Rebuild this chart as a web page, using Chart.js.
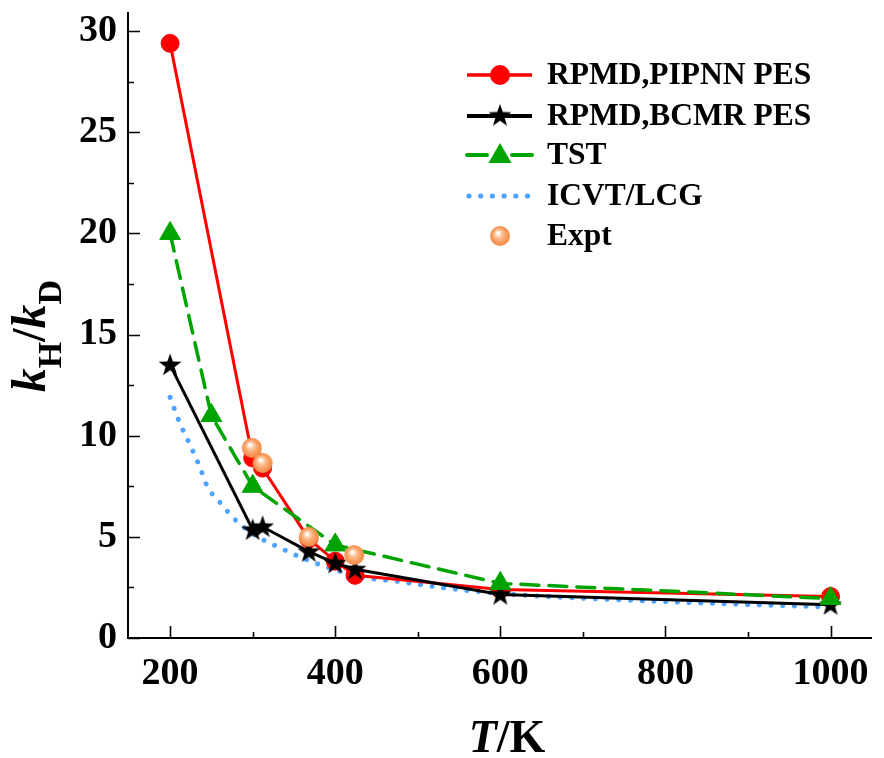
<!DOCTYPE html>
<html>
<head>
<meta charset="utf-8">
<script src="https://cdn.jsdelivr.net/npm/chart.js@4"></script>
<style>
  body { margin: 0; background: #fff; }
  canvas { display: block; }
</style>
</head>
<body>
<canvas id="ratioChart" width="884" height="758"></canvas>
<script>
// RPMD temperatures (K) and k_H/k_D ratios
const rpmdTemps = [200, 300, 312, 368, 400, 424, 600, 1000];
const rpmdPipnn = [29.4, 8.9, 8.4, 4.9, 3.8, 3.1, 2.4, 2.05];
const rpmdBcmr = [13.5, 5.35, 5.5, 4.27, 3.7, 3.4, 2.15, 1.65];

const tstTemps = [200, 250, 300, 400, 600, 1000];
const tstRatio = [20.0, 11.0, 7.5, 4.6, 2.7, 1.95];

const icvtTemps = [200, 211, 223, 235, 245, 261, 279, 302, 330, 366, 398, 430, 477, 534, 600, 800, 1000];
const icvtRatio = [11.9, 10.7, 9.65, 8.56, 7.5, 6.67, 5.84, 5.1, 4.52, 3.86, 3.4, 3.03, 2.79, 2.47, 2.2, 1.8, 1.53];

const exptTemps = [299, 312, 368, 423];
const exptRatio = [9.4, 8.65, 5.0, 4.1];

const xTicks = [200, 400, 600, 800, 1000];
const yTicks = [0, 5, 10, 15, 20, 25, 30];

const serif = '"Liberation Serif", "Times New Roman", serif';
const RED = '#ff0000';
const GREEN = '#00a400';
const BLUE = '#4da3ff';

function toPoints(xs, ys) {
    return xs.map((x, i) => ({ x: x, y: ys[i] }));
}

// filled five point star marker
const starImg = (() => {
    const c = document.createElement('canvas');
    c.width = 26; c.height = 26;
    const g = c.getContext('2d');
    g.beginPath();
    for (let i = 0; i < 10; i++) {
        const r = i % 2 ? 4.8 : 12;
        const a = -Math.PI / 2 + i * Math.PI / 5;
        const px = 13 + r * Math.cos(a), py = 13.5 + r * Math.sin(a);
        if (i === 0) g.moveTo(px, py); else g.lineTo(px, py);
    }
    g.closePath();
    g.fillStyle = '#000';
    g.fill();
    return c;
})();

// shaded orange ball for the experiment
const ballImg = (() => {
    const c = document.createElement('canvas');
    c.width = 22; c.height = 22;
    const g = c.getContext('2d');
    const grad = g.createRadialGradient(9, 8, 1, 11, 11, 10.5);
    grad.addColorStop(0, '#ffffff');
    grad.addColorStop(0.25, '#ffc9a0');
    grad.addColorStop(0.6, '#f9a066');
    grad.addColorStop(1, '#f0883f');
    g.beginPath();
    g.arc(11, 11, 10, 0, Math.PI * 2);
    g.fillStyle = grad;
    g.fill();
    return c;
})();

// inward ticks, custom axis titles and legend
const decorPlugin = {
    id: 'decor',
    afterDraw(chart) {
        const ctx = chart.ctx;
        const xs = chart.scales.x, ys = chart.scales.y;
        const left = chart.chartArea.left, bottom = chart.chartArea.bottom;
        ctx.save();
        ctx.strokeStyle = '#000';
        ctx.lineWidth = 1.6;
        ctx.beginPath();
        for (let v = 200; v <= 1000; v += 100) {
            const px = Math.round(xs.getPixelForValue(v)) + 0.5;
            const len = v % 200 === 0 ? 12 : 6;
            ctx.moveTo(px, bottom);
            ctx.lineTo(px, bottom - len);
        }
        for (let v = 0; v <= 30; v += 2.5) {
            const py = Math.round(ys.getPixelForValue(v)) + 0.5;
            const len = v % 5 === 0 ? 12 : 6;
            ctx.moveTo(left, py);
            ctx.lineTo(left + len, py);
        }
        ctx.stroke();

        // x title: T/K
        ctx.fillStyle = '#000';
        ctx.textBaseline = 'alphabetic';
        const fT = 'italic bold 46px ' + serif;
        const fK = 'bold 46px ' + serif;
        ctx.font = fT;
        const wT = ctx.measureText('T').width;
        ctx.font = fK;
        const wK = ctx.measureText('/K').width;
        let tx = 507 - (wT + wK) / 2;
        ctx.font = fT;
        ctx.fillText('T', tx, 752);
        ctx.font = fK;
        ctx.fillText('/K', tx + wT, 752);

        // y title: kH/kD rotated
        ctx.save();
        ctx.translate(45, 336);
        ctx.rotate(-Math.PI / 2);
        const parts = [
            { t: 'k', f: 'italic bold 48px ' + serif, dy: 0 },
            { t: 'H', f: 'bold 34px ' + serif, dy: 16 },
            { t: '/', f: 'bold 48px ' + serif, dy: 0 },
            { t: 'k', f: 'italic bold 48px ' + serif, dy: 0 },
            { t: 'D', f: 'bold 34px ' + serif, dy: 16 }
        ];
        let total = 0;
        parts.forEach(p => { ctx.font = p.f; p.w = ctx.measureText(p.t).width; total += p.w; });
        let cx = -total / 2;
        parts.forEach(p => { ctx.font = p.f; ctx.fillText(p.t, cx, p.dy); cx += p.w; });
        ctx.restore();

        // legend
        const x0 = 467, x1 = 532, xm = 500, textX = 547;
        const rows = [75, 116, 155, 196, 236];
        ctx.font = 'bold 31.5px ' + serif;
        ctx.textBaseline = 'middle';
        ctx.lineCap = 'butt';

        ctx.strokeStyle = RED; ctx.lineWidth = 3.5;
        ctx.beginPath(); ctx.moveTo(x0, rows[0]); ctx.lineTo(x1, rows[0]); ctx.stroke();
        ctx.fillStyle = RED;
        ctx.beginPath(); ctx.arc(xm, rows[0], 10, 0, Math.PI * 2); ctx.fill();

        ctx.strokeStyle = '#000'; ctx.lineWidth = 4;
        ctx.beginPath(); ctx.moveTo(x0, rows[1]); ctx.lineTo(x1, rows[1]); ctx.stroke();
        ctx.drawImage(starImg, xm - 13, rows[1] - 13.5);

        ctx.strokeStyle = GREEN; ctx.lineWidth = 4; ctx.lineCap = 'round';
        ctx.beginPath();
        ctx.moveTo(x0, rows[2]); ctx.lineTo(x0 + 20, rows[2]);
        ctx.moveTo(x1 - 20, rows[2]); ctx.lineTo(x1, rows[2]);
        ctx.stroke();
        ctx.fillStyle = GREEN;
        ctx.beginPath();
        ctx.moveTo(xm, rows[2] - 12);
        ctx.lineTo(xm + 11.5, rows[2] + 8);
        ctx.lineTo(xm - 11.5, rows[2] + 8);
        ctx.closePath(); ctx.fill();

        ctx.fillStyle = BLUE;
        for (let i = 0; i < 6; i++) {
            ctx.beginPath(); ctx.arc(x0 + 2 + i * 11.7, rows[3], 2.6, 0, Math.PI * 2); ctx.fill();
        }

        ctx.drawImage(ballImg, xm - 11, rows[4] - 11);

        ctx.fillStyle = '#000';
        ['RPMD,PIPNN PES', 'RPMD,BCMR PES', 'TST', 'ICVT/LCG', 'Expt'].forEach((t, i) => {
            ctx.fillText(t, textX, rows[i] + 1);
        });
        ctx.restore();
    }
};

const ctx = document.getElementById('ratioChart').getContext('2d');
const ratioChart = new Chart(ctx, {
    type: 'scatter',
    data: {
        datasets: [
            {
                label: 'Expt',
                data: toPoints(exptTemps, exptRatio),
                pointStyle: ballImg,
                showLine: false,
                order: 1
            },
            {
                label: 'TST',
                data: toPoints(tstTemps, tstRatio),
                showLine: true,
                borderColor: GREEN,
                backgroundColor: GREEN,
                borderWidth: 3.5,
                borderDash: [18, 10],
                borderCapStyle: 'round',
                pointStyle: 'triangle',
                pointRadius: 12,
                pointBorderWidth: 1,
                order: 2
            },
            {
                label: 'RPMD,BCMR PES',
                data: toPoints(rpmdTemps, rpmdBcmr),
                showLine: true,
                borderColor: '#000',
                backgroundColor: '#000',
                borderWidth: 3,
                pointStyle: starImg,
                order: 3
            },
            {
                label: 'RPMD,PIPNN PES',
                data: toPoints(rpmdTemps, rpmdPipnn),
                showLine: true,
                borderColor: RED,
                backgroundColor: RED,
                borderWidth: 3,
                pointStyle: 'circle',
                pointRadius: 9,
                pointBorderWidth: 1,
                order: 4
            },
            {
                label: 'ICVT/LCG',
                data: toPoints(icvtTemps, icvtRatio),
                showLine: true,
                borderColor: BLUE,
                borderWidth: 5,
                borderDash: [0.01, 11.7],
                borderCapStyle: 'round',
                cubicInterpolationMode: 'monotone',
                pointRadius: 0,
                order: 5
            }
        ]
    },
    options: {
        responsive: false,
        animation: false,
        devicePixelRatio: 1,
        layout: { padding: { top: 0, right: 2, left: 0, bottom: 0 } },
        plugins: {
            legend: { display: false },
            tooltip: { enabled: false }
        },
        scales: {
            x: {
                type: 'linear',
                min: 149,
                max: 1049,
                afterBuildTicks: scale => { scale.ticks = xTicks.map(v => ({ value: v })); },
                afterFit: scale => {
                    scale.height = 120;
                    scale.paddingLeft = 0;
                    scale.paddingRight = 0;
                },
                grid: { display: true, drawOnChartArea: false, drawTicks: false },
                border: { display: true, color: '#000', width: 2 },
                ticks: {
                    color: '#000',
                    padding: 13,
                    maxRotation: 0,
                    callback: v => String(v),
                    font: { family: serif, size: 38, weight: 'bold' }
                }
            },
            y: {
                min: 0,
                max: 30.9,
                afterBuildTicks: scale => { scale.ticks = yTicks.map(v => ({ value: v })); },
                afterFit: scale => {
                    scale.width = 128;
                    scale.paddingTop = 0;
                    scale.paddingBottom = 0;
                },
                grid: { display: true, drawOnChartArea: false, drawTicks: false },
                border: { display: true, color: '#000', width: 2 },
                ticks: {
                    color: '#000',
                    padding: 11,
                    callback: v => String(v),
                    font: { family: serif, size: 38, weight: 'bold' }
                }
            }
        }
    },
    plugins: [decorPlugin]
});
</script>
</body>
</html>
